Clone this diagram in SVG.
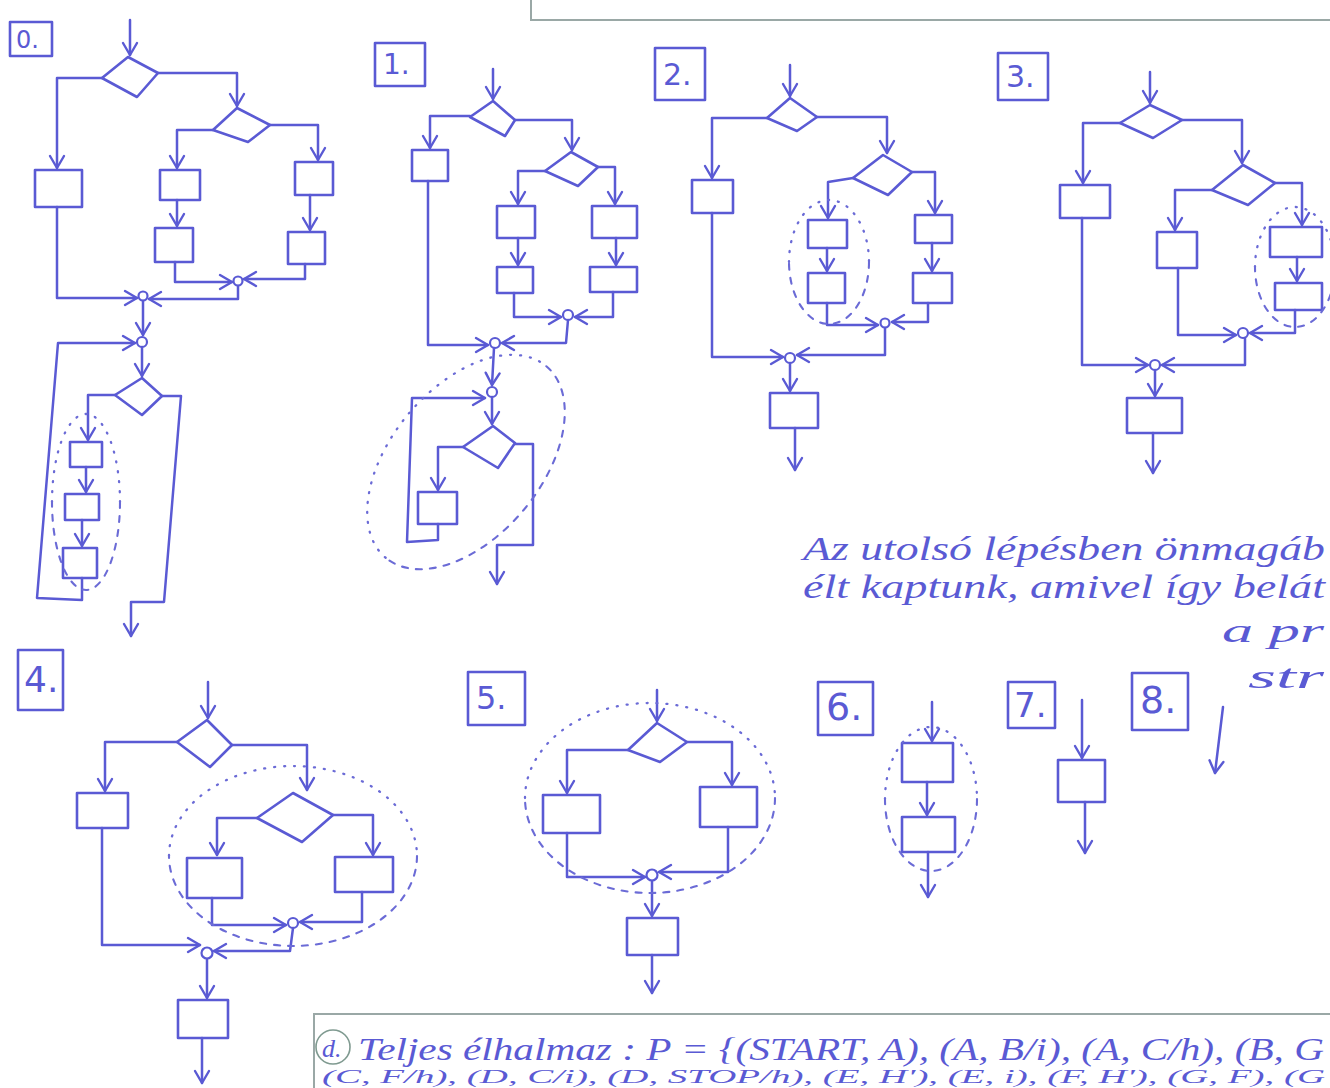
<svg xmlns="http://www.w3.org/2000/svg" width="1330" height="1088" viewBox="0 0 1330 1088">
<defs>
<style>
.bg{fill:#ffffff}
.p{fill:none;stroke:#5a5ad4;stroke-width:2.5;stroke-linecap:round;stroke-linejoin:round}
.a{marker-end:url(#ah)}
.n{fill:none;stroke:#5a5ad4;stroke-width:2.6;stroke-linejoin:round}
.j{fill:#ffffff;stroke:#5a5ad4;stroke-width:2.2}
.dot{fill:none;stroke:#6b6bd6;stroke-width:2.3;stroke-linecap:round;stroke-dasharray:1 9}
.dash{fill:none;stroke:#6b6bd6;stroke-width:2.1;stroke-linecap:round;stroke-dasharray:6 8}
.lbl{font-family:"DejaVu Sans","Liberation Sans",sans-serif;fill:#5a5ad4}
.t{font-family:"Liberation Serif","DejaVu Serif",serif;font-style:italic;fill:#5a5ad4}
.fr{fill:none;stroke:#9aa8a6;stroke-width:2}
</style>
<marker id="ah" viewBox="-14 -9 16 18" refX="0" refY="0" markerWidth="16" markerHeight="18" markerUnits="userSpaceOnUse" orient="auto">
<path d="M-12,-7 L0,0 L-12,7" fill="none" stroke="#5a5ad4" stroke-width="2.4" stroke-linecap="round" stroke-linejoin="round"/>
</marker>
</defs>
<rect class="bg" x="0" y="0" width="1330" height="1088"/>

<!-- page frames -->
<g id="frames">
<path class="fr" d="M531,0 V20 H1330"/>
<path class="fr" d="M314,1088 V1014 H1330"/>
</g>

<!-- ===== step 0 ===== -->
<g id="s0">
<g id="s0-label"><rect class="n" x="10" y="22" width="42" height="34"/><text class="lbl" x="16" y="48" font-size="24">0.</text></g>
<g id="s0-d1"><polygon class="n" points="102,78 128,57 158,73 137,97"/></g>
<g id="s0-bl"><rect class="n" x="35" y="170" width="47" height="37"/></g>
<g id="s0-d2"><polygon class="n" points="213,130 237,108 270,125 248,142"/></g>
<g id="s0-b1"><rect class="n" x="160" y="170" width="40" height="30"/></g>
<g id="s0-b2"><rect class="n" x="155" y="228" width="38" height="34"/></g>
<g id="s0-b3"><rect class="n" x="295" y="162" width="38" height="33"/></g>
<g id="s0-b4"><rect class="n" x="288" y="232" width="37" height="32"/></g>
<g id="s0-j1"><circle class="j" cx="238" cy="281" r="4.5"/></g>
<g id="s0-j2"><circle class="j" cx="143" cy="296" r="4.5"/></g>
<g id="s0-j3"><circle class="j" cx="142" cy="342" r="5"/></g>
<g id="s0-d3"><polygon class="n" points="115,395 142,378 162,396 142,415"/></g>
<g id="s0-l1"><rect class="n" x="70" y="442" width="32" height="25"/></g>
<g id="s0-l2"><rect class="n" x="65" y="494" width="34" height="26"/></g>
<g id="s0-l3"><rect class="n" x="63" y="548" width="34" height="30"/></g>
<g id="s0-links">
<path class="p a" d="M130,20 V55"/>
<path class="p a" d="M102,78 H57 V168"/>
<path class="p a" d="M158,73 H237 V106"/>
<path class="p a" d="M213,130 H177 V168"/>
<path class="p a" d="M177,200 V226"/>
<path class="p a" d="M270,125 H318 V160"/>
<path class="p a" d="M310,195 V230"/>
<path class="p a" d="M175,262 V282 H232"/>
<path class="p a" d="M305,264 V279 H244"/>
<path class="p a" d="M238,286 V299 H149"/>
<path class="p a" d="M57,207 V298 H137"/>
<path class="p a" d="M143,301 V335"/>
<path class="p a" d="M82,578 V600 L37,598 L58,343 H135"/>
<path class="p a" d="M142,347 V376"/>
<path class="p a" d="M115,395 H88 V440"/>
<path class="p a" d="M86,467 V492"/>
<path class="p a" d="M82,520 V546"/>
<path class="p a" d="M162,396 H181 L164,602 H131 V636"/>
</g>
<path class="dot" d="M52,502 A34,88 0 0 1 120,502"/>
<path class="dash" d="M120,502 A34,88 0 0 1 52,502"/>
</g>

<!-- ===== step 1 ===== -->
<g id="s1">
<g id="s1-label"><rect class="n" x="375" y="43" width="50" height="43"/><text class="lbl" x="383" y="74" font-size="28">1.</text></g>
<g id="s1-d1"><polygon class="n" points="470,117 493,101 515,120 505,136"/></g>
<g id="s1-bl"><rect class="n" x="412" y="150" width="36" height="31"/></g>
<g id="s1-d2"><polygon class="n" points="545,171 571,152 598,167 578,186"/></g>
<g id="s1-b1"><rect class="n" x="497" y="206" width="38" height="32"/></g>
<g id="s1-b2"><rect class="n" x="497" y="267" width="36" height="26"/></g>
<g id="s1-b3"><rect class="n" x="592" y="206" width="45" height="32"/></g>
<g id="s1-b4"><rect class="n" x="590" y="267" width="47" height="25"/></g>
<g id="s1-j1"><circle class="j" cx="568" cy="315" r="5"/></g>
<g id="s1-j2"><circle class="j" cx="495" cy="343" r="5"/></g>
<g id="s1-j3"><circle class="j" cx="492" cy="392" r="5"/></g>
<g id="s1-d3"><polygon class="n" points="463,447 493,426 515,443 498,468"/></g>
<g id="s1-bx"><rect class="n" x="418" y="492" width="39" height="32"/></g>
<g id="s1-links">
<path class="p a" d="M493,69 V99"/>
<path class="p a" d="M470,116 H430 V148"/>
<path class="p a" d="M515,120 H572 V150"/>
<path class="p a" d="M545,171 H518 V204"/>
<path class="p a" d="M518,238 V265"/>
<path class="p a" d="M598,167 H615 V204"/>
<path class="p a" d="M616,238 V265"/>
<path class="p a" d="M514,293 V317 H561"/>
<path class="p a" d="M613,292 V317 H575"/>
<path class="p a" d="M568,320 L566,343 H502"/>
<path class="p a" d="M428,181 V345 H488"/>
<path class="p a" d="M494,348 L492,385"/>
<path class="p a" d="M438,524 V540 L407,542 L412,398 H485"/>
<path class="p a" d="M492,397 V424"/>
<path class="p a" d="M463,447 H438 V490"/>
<path class="p a" d="M515,444 H533 V545 H497 V584"/>
</g>
<g transform="rotate(-50 466 462)">
<path class="dot" d="M341,462 A125,75 0 0 1 591,462"/>
<path class="dash" d="M591,462 A125,75 0 0 1 341,462"/>
</g>
</g>

<!-- ===== step 2 ===== -->
<g id="s2">
<g id="s2-label"><rect class="n" x="655" y="48" width="50" height="52"/><text class="lbl" x="663" y="85" font-size="30">2.</text></g>
<g id="s2-d1"><polygon class="n" points="767,118 790,98 817,117 797,131"/></g>
<g id="s2-bl"><rect class="n" x="692" y="180" width="41" height="33"/></g>
<g id="s2-d2"><polygon class="n" points="853,178 883,155 912,172 888,195"/></g>
<g id="s2-b1"><rect class="n" x="808" y="220" width="39" height="28"/></g>
<g id="s2-b2"><rect class="n" x="808" y="273" width="37" height="30"/></g>
<g id="s2-b3"><rect class="n" x="915" y="215" width="37" height="28"/></g>
<g id="s2-b4"><rect class="n" x="913" y="273" width="39" height="30"/></g>
<g id="s2-j1"><circle class="j" cx="885" cy="323" r="4.5"/></g>
<g id="s2-j2"><circle class="j" cx="790" cy="358" r="5"/></g>
<g id="s2-bb"><rect class="n" x="770" y="393" width="48" height="35"/></g>
<g id="s2-links">
<path class="p a" d="M790,65 V96"/>
<path class="p a" d="M767,118 H712 V178"/>
<path class="p a" d="M817,117 H887 V153"/>
<path class="p a" d="M853,178 L828,182 V218"/>
<path class="p a" d="M827,248 V271"/>
<path class="p a" d="M912,172 H935 V213"/>
<path class="p a" d="M932,243 V271"/>
<path class="p a" d="M827,303 V325 H878"/>
<path class="p a" d="M928,303 V322 H892"/>
<path class="p a" d="M885,328 V355 H797"/>
<path class="p a" d="M712,213 V357 H783"/>
<path class="p a" d="M790,363 V391"/>
<path class="p a" d="M795,428 V470"/>
</g>
<path class="dot" d="M789,262 A40,62 0 0 1 869,262"/>
<path class="dash" d="M869,262 A40,62 0 0 1 789,262"/>
</g>

<!-- ===== step 3 ===== -->
<g id="s3">
<g id="s3-label"><rect class="n" x="998" y="53" width="50" height="47"/><text class="lbl" x="1006" y="87" font-size="30">3.</text></g>
<g id="s3-d1"><polygon class="n" points="1120,123 1150,105 1182,120 1153,138"/></g>
<g id="s3-bl"><rect class="n" x="1060" y="185" width="50" height="33"/></g>
<g id="s3-d2"><polygon class="n" points="1212,190 1243,165 1275,183 1248,205"/></g>
<g id="s3-b1"><rect class="n" x="1157" y="232" width="40" height="36"/></g>
<g id="s3-b3"><rect class="n" x="1270" y="227" width="52" height="30"/></g>
<g id="s3-b4"><rect class="n" x="1275" y="283" width="47" height="27"/></g>
<g id="s3-j1"><circle class="j" cx="1243" cy="333" r="5"/></g>
<g id="s3-j2"><circle class="j" cx="1155" cy="365" r="5"/></g>
<g id="s3-bb"><rect class="n" x="1127" y="398" width="55" height="35"/></g>
<g id="s3-links">
<path class="p a" d="M1150,72 V103"/>
<path class="p a" d="M1120,123 H1083 V183"/>
<path class="p a" d="M1182,120 H1242 V163"/>
<path class="p a" d="M1212,190 H1175 V230"/>
<path class="p a" d="M1275,183 H1302 V225"/>
<path class="p a" d="M1297,257 V281"/>
<path class="p a" d="M1178,268 V335 H1236"/>
<path class="p a" d="M1295,310 V333 H1250"/>
<path class="p a" d="M1245,338 V365 H1162"/>
<path class="p a" d="M1082,218 V365 H1148"/>
<path class="p a" d="M1155,370 V396"/>
<path class="p a" d="M1153,433 V473"/>
</g>
<path class="dot" d="M1255,267 A40,60 0 0 1 1335,267"/>
<path class="dash" d="M1335,267 A40,60 0 0 1 1255,267"/>
</g>

<!-- ===== step 4 ===== -->
<g id="s4">
<g id="s4-label"><rect class="n" x="18" y="650" width="45" height="60"/><text class="lbl" x="24" y="692" font-size="36">4.</text></g>
<g id="s4-d1"><polygon class="n" points="177,742 207,720 232,745 210,767"/></g>
<g id="s4-bl"><rect class="n" x="77" y="793" width="51" height="35"/></g>
<g id="s4-d2"><polygon class="n" points="257,818 293,793 333,815 302,842"/></g>
<g id="s4-b1"><rect class="n" x="187" y="858" width="55" height="40"/></g>
<g id="s4-b2"><rect class="n" x="335" y="857" width="58" height="35"/></g>
<g id="s4-j1"><circle class="j" cx="293" cy="923" r="5"/></g>
<g id="s4-j2"><circle class="j" cx="207" cy="953" r="5.5"/></g>
<g id="s4-bb"><rect class="n" x="178" y="1000" width="50" height="38"/></g>
<g id="s4-links">
<path class="p a" d="M208,682 V718"/>
<path class="p a" d="M177,742 H105 V791"/>
<path class="p a" d="M232,745 H307 V790"/>
<path class="p a" d="M257,818 H217 V855"/>
<path class="p a" d="M333,815 H373 V855"/>
<path class="p a" d="M212,898 V925 H286"/>
<path class="p a" d="M362,892 V922 H300"/>
<path class="p a" d="M293,928 L290,951 H214"/>
<path class="p a" d="M102,828 V945 H200"/>
<path class="p a" d="M207,959 V998"/>
<path class="p a" d="M202,1038 V1083"/>
</g>
<path class="dot" d="M169,856 A124,90 0 0 1 417,856"/>
<path class="dash" d="M417,856 A124,90 0 0 1 169,856"/>
</g>

<!-- ===== step 5 ===== -->
<g id="s5">
<g id="s5-label"><rect class="n" x="468" y="672" width="57" height="53"/><text class="lbl" x="476" y="709" font-size="32">5.</text></g>
<g id="s5-d"><polygon class="n" points="628,750 657,723 687,742 660,762"/></g>
<g id="s5-bl"><rect class="n" x="543" y="795" width="57" height="38"/></g>
<g id="s5-br"><rect class="n" x="700" y="787" width="57" height="40"/></g>
<g id="s5-j"><circle class="j" cx="652" cy="875" r="5.5"/></g>
<g id="s5-bb"><rect class="n" x="627" y="918" width="51" height="37"/></g>
<g id="s5-links">
<path class="p a" d="M657,690 V721"/>
<path class="p a" d="M628,750 H567 V793"/>
<path class="p a" d="M687,742 H732 V785"/>
<path class="p a" d="M567,833 V877 H645"/>
<path class="p a" d="M728,827 V872 H659"/>
<path class="p a" d="M652,881 V916"/>
<path class="p a" d="M652,955 V993"/>
</g>
<path class="dot" d="M525,798 A125,95 0 0 1 775,798"/>
<path class="dash" d="M775,798 A125,95 0 0 1 525,798"/>
</g>

<!-- ===== step 6 ===== -->
<g id="s6">
<g id="s6-label"><rect class="n" x="818" y="682" width="55" height="53"/><text class="lbl" x="826" y="720" font-size="38">6.</text></g>
<g id="s6-b1"><rect class="n" x="902" y="743" width="51" height="39"/></g>
<g id="s6-b2"><rect class="n" x="902" y="817" width="53" height="35"/></g>
<g id="s6-links">
<path class="p a" d="M932,702 V741"/>
<path class="p a" d="M927,782 V815"/>
<path class="p a" d="M928,852 V897"/>
</g>
<path class="dot" d="M885,799 A46,72 0 0 1 977,799"/>
<path class="dash" d="M977,799 A46,72 0 0 1 885,799"/>
</g>

<!-- ===== step 7 ===== -->
<g id="s7">
<g id="s7-label"><rect class="n" x="1008" y="682" width="47" height="46"/><text class="lbl" x="1014" y="717" font-size="34">7.</text></g>
<g id="s7-b"><rect class="n" x="1058" y="760" width="47" height="42"/></g>
<g id="s7-links">
<path class="p a" d="M1082,700 V758"/>
<path class="p a" d="M1085,802 V853"/>
</g>
</g>

<!-- ===== step 8 ===== -->
<g id="s8">
<g id="s8-label"><rect class="n" x="1132" y="673" width="56" height="57"/><text class="lbl" x="1140" y="713" font-size="38">8.</text></g>
<g id="s8-links">
<path class="p a" d="M1223,707 L1215,773"/>
</g>
</g>

<!-- closing remark -->
<g id="remark">
<text class="t" x="803" y="560" font-size="34" textLength="522" lengthAdjust="spacingAndGlyphs">Az utolsó lépésben önmagáb</text>
<text class="t" x="803" y="598" font-size="34" textLength="522" lengthAdjust="spacingAndGlyphs">élt kaptunk, amivel így belát</text>
<text class="t" x="1222" y="642" font-size="34" textLength="102" lengthAdjust="spacingAndGlyphs">a pr</text>
<text class="t" x="1248" y="688" font-size="34" textLength="76" lengthAdjust="spacingAndGlyphs">str</text>
</g>

<!-- edge set -->
<g id="edgeset">
<circle cx="333" cy="1047" r="17" fill="none" stroke="#7f9a90" stroke-width="1.6"/>
<text class="t" x="322" y="1057" font-size="26">d.</text>
<text class="t" x="358" y="1060" font-size="31" textLength="966" lengthAdjust="spacingAndGlyphs">Teljes élhalmaz : P = {(START, A), (A, B/i), (A, C/h), (B, G</text>
<text class="t" x="322" y="1083" font-size="19" textLength="1003" lengthAdjust="spacingAndGlyphs">(C, F/h), (D, C/i), (D, STOP/h), (E, H'), (E, i), (F, H'), (G, F), (G</text>
</g>
</svg>
